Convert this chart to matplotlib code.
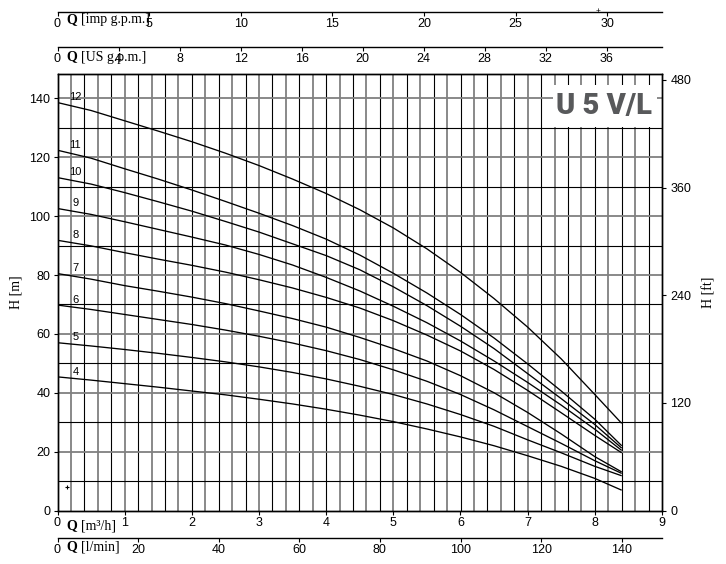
import matplotlib
matplotlib.use("Agg")
import matplotlib.pyplot as plt
from matplotlib.patches import Rectangle
import numpy as np

plt.rcParams["font.family"] = ["Liberation Sans", "DejaVu Sans"]

# ---------------- data ----------------
Q = [0, 0.5, 1, 1.5, 2, 2.5, 3, 3.5, 4, 4.5, 5, 5.5, 6, 6.5, 7, 7.5, 8, 8.4]  # m3/h
H12 = [138.6, 135.9, 132.4, 128.9, 125.3, 121.4, 117.2, 112.6, 107.7, 102.2,
       96.0, 88.9, 80.9, 72.0, 62.3, 51.5, 39.4, 29.6]
H11 = [122.4, 119.7, 116.1, 112.6, 108.9, 105.0, 101.0, 96.8, 92.2, 86.8,
       80.6, 73.9, 66.6, 58.6, 49.8, 40.6, 31.0, 22.0]
H10 = [113.1, 110.9, 108.0, 104.9, 101.7, 98.2, 94.6, 90.6, 86.6, 81.8,
       76.0, 69.6, 62.6, 55.0, 46.5, 38.0, 29.2, 21.2]
H9 = [102.6, 100.6, 98.1, 95.5, 92.9, 90.2, 87.0, 83.4, 79.2, 74.6,
      69.4, 63.8, 57.6, 50.8, 43.5, 35.8, 27.6, 20.4]
H8 = [91.8, 89.9, 87.6, 85.4, 83.3, 81.0, 78.4, 75.6, 72.4, 68.8,
      64.5, 59.6, 54.2, 47.9, 40.8, 33.2, 25.5, 19.6]
H7 = [80.5, 78.6, 76.4, 74.5, 72.5, 70.3, 67.8, 65.2, 62.3, 58.8,
      55.0, 50.8, 45.8, 40.0, 33.3, 26.0, 18.3, 13.1]
H6 = [69.8, 68.3, 66.6, 64.9, 63.2, 61.3, 59.2, 56.9, 54.3, 51.3,
      47.8, 43.9, 39.4, 34.2, 28.5, 22.8, 16.9, 12.6]
H5 = [57.0, 55.9, 54.7, 53.4, 52.0, 50.5, 48.8, 46.9, 44.7, 42.2,
      39.4, 36.2, 32.6, 28.6, 24.0, 19.6, 15.0, 11.8]
H4 = [45.4, 44.3, 43.1, 41.9, 40.6, 39.3, 37.8, 36.2, 34.4, 32.4,
      30.2, 27.7, 25.0, 22.0, 18.6, 15.0, 10.9, 6.9]
curves = {"12": H12, "11": H11, "10": H10, "9": H9, "8": H8,
          "7": H7, "6": H6, "5": H5, "4": H4}

x_ticks = [0, 1, 2, 3, 4, 5, 6, 7, 8, 9]
y_ticks = [0, 20, 40, 60, 80, 100, 120, 140]
ft_ticks = [0, 120, 240, 360, 480]
imp_ticks = [0, 5, 10, 15, 20, 25, 30]
us_ticks = [0, 4, 8, 12, 16, 20, 24, 28, 32, 36]
lmin_ticks = [0, 20, 40, 60, 80, 100, 120, 140]
title = "U 5 V/L"

# ---------------- layout ----------------
W, Hh = 726, 564
fig = plt.figure(figsize=(W / 100, Hh / 100), dpi=100)
SERIF = ["Liberation Serif", "DejaVu Serif"]


def rect(x0, y0, x1, y1):
    return [x0 / W, 1 - y1 / Hh, (x1 - x0) / W, (y1 - y0) / Hh]


X0, X1, YT, YB = 57.5, 662, 74, 510.5
ax = fig.add_axes(rect(X0, YT, X1, YB))
XMAX, YMAX = 9.0, 148.3
ax.set_xlim(0, XMAX)
ax.set_ylim(0, YMAX)

# grid
for i, xv in enumerate(np.arange(0.2, XMAX, 0.2)):
    if i % 2 == 0:
        ax.axvline(xv, color="#808080", lw=1.3, zorder=1)
    else:
        ax.axvline(xv, color="black", lw=0.8, zorder=1)
for yv in range(10, 148, 10):
    if yv % 20 == 0:
        ax.axhline(yv, color="#808080", lw=1.3, zorder=1)
    else:
        ax.axhline(yv, color="black", lw=0.8, zorder=1)

# curves
for name, h in curves.items():
    ax.plot(Q, h, color="black", lw=0.95, zorder=3, solid_capstyle="butt",
            solid_joinstyle="round")
    ax.text(0.17 if len(name) == 2 else 0.22, h[0] + 1.8, name,
            fontsize=8, ha="left", va="center", zorder=4)

ax.plot([0.14], [7.9], marker="+", color="black", ms=3, mew=0.8, zorder=4)

# axes styling
for s in ax.spines.values():
    s.set_linewidth(1.0)
    s.set_zorder(5)
ax.set_xticks(x_ticks)
ax.set_xticklabels([str(v) for v in x_ticks])
ax.set_yticks(y_ticks)
ax.tick_params(axis="both", direction="out", length=3, width=0.8,
               labelsize=9, pad=2)

ax.set_ylabel("H [m]", family=SERIF, fontsize=10, labelpad=5)

# right ft axis
axr = ax.twinx()
axr.set_ylim(0, YMAX / 0.3048)
axr.set_yticks(ft_ticks)
axr.tick_params(axis="y", direction="out", length=3, width=0.8,
                labelsize=9, pad=3)
axr.set_ylabel("H [ft]", family=SERIF, fontsize=10, labelpad=8)
for s in axr.spines.values():
    s.set_linewidth(1.0)

# title box
fig.patches.append(Rectangle((553 / W, 1 - 127 / Hh), (657 - 553) / W, (127 - 85) / Hh,
                             transform=fig.transFigure, facecolor="white",
                             edgecolor="none", zorder=6))
fig.text(604 / W, 1 - 105.5 / Hh, title, fontsize=21, fontweight="black",
         family=["Roboto", "DejaVu Sans"], color="#58595b",
         ha="center", va="center", zorder=7)


# secondary flow axes
def flow_axis(y_px, xmax, ticks):
    a = fig.add_axes(rect(X0, y_px - 1, X1, y_px))
    a.set_xlim(0, xmax)
    a.set_ylim(0, 1)
    a.patch.set_visible(False)
    for s in ["top", "left", "right"]:
        a.spines[s].set_visible(False)
    a.spines["bottom"].set_linewidth(1.0)
    a.set_yticks([])
    a.set_xticks(ticks)
    a.set_xticklabels([str(t) for t in ticks])
    a.tick_params(axis="x", direction="out", length=3, width=0.8,
                  labelsize=9, pad=2)
    return a


flow_axis(11.5, XMAX / 0.272765, imp_ticks)
flow_axis(46.5, XMAX / 0.227125, us_ticks)
flow_axis(537.5, XMAX * 1000 / 60, lmin_ticks)


# unit labels
def unit_label(y_px, txt):
    fig.text(66 / W, 1 - y_px / Hh, "Q", family=SERIF, fontsize=10,
             fontweight="bold", ha="left", va="center")
    fig.text(81 / W, 1 - y_px / Hh, txt, family=SERIF, fontsize=10,
             ha="left", va="center")


unit_label(20, "[imp g.p.m.]")
unit_label(57, "[US g.p.m.]")
unit_label(525.5, "[m\u00b3/h]")
unit_label(547, "[l/min]")

fig.text(598 / W, 1 - 11.5 / Hh, "+", fontsize=6, ha="center", va="center")

fig.savefig("out.png", dpi=100)
